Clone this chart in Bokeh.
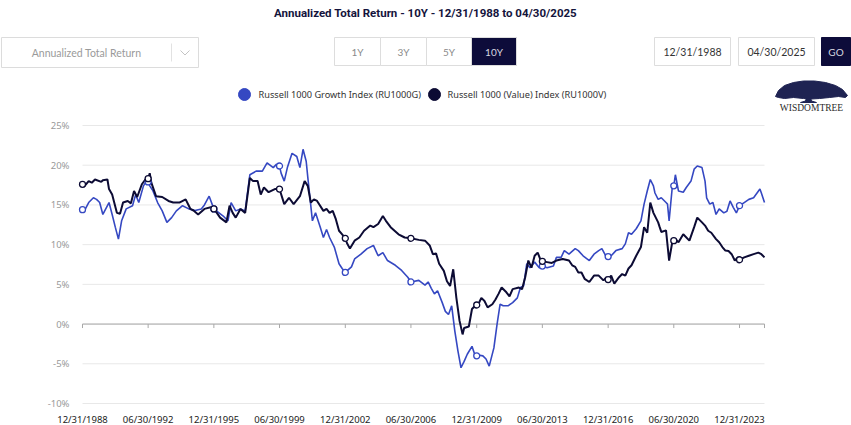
import pandas as pd
from bokeh.plotting import figure
from bokeh.models import (Range1d, FixedTicker, DatetimeTickFormatter, PrintfTickFormatter,
                          DatetimeAxis, LinearAxis)
from bokeh.embed import file_html
from bokeh.resources import INLINE
from bokeh.core.properties import value

# ---------------- texts ----------------
TITLE = "Annualized Total Return - 10Y - 12/31/1988 to 04/30/2025"
DROPDOWN_TEXT = "Annualized Total Return"
PERIODS = ["1Y", "3Y", "5Y", "10Y"]
SELECTED_PERIOD = "10Y"
DATE_INPUTS = ["12/31/1988", "04/30/2025"]
GO_TEXT = "GO"
SERIES_NAMES = ["Russell 1000 Growth Index (RU1000G)", "Russell 1000 (Value) Index (RU1000V)"]
LOGO_TEXT = "WISDOMTREE"

# ---------------- data (annualized 10Y total return, %) ----------------
growth_months = [
    "1988-12", "1989-01", "1989-04", "1989-07", "1989-09", "1989-11", "1990-01", "1990-05", "1990-07", "1990-09",
    "1990-11", "1991-01", "1991-04", "1991-08", "1991-10", "1991-12", "1992-03", "1992-05", "1992-06", "1992-07",
    "1992-09", "1992-12", "1993-03", "1993-06", "1993-09", "1993-12", "1994-04", "1994-08", "1994-12", "1995-04",
    "1995-06", "1995-09", "1995-12", "1996-06", "1996-09", "1996-11", "1997-02", "1997-05", "1997-08", "1997-11",
    "1998-03", "1998-07", "1998-10", "1999-02", "1999-04", "1999-06", "1999-07", "1999-09", "1999-11", "2000-02",
    "2000-05", "2000-07", "2000-09", "2000-11", "2000-12", "2001-03", "2001-05", "2001-08", "2001-10", "2001-12",
    "2002-02", "2002-05", "2002-08", "2002-10", "2002-12", "2003-04", "2003-06", "2003-10", "2004-02", "2004-06",
    "2004-09", "2004-12", "2005-03", "2005-08", "2005-12", "2006-04", "2006-06", "2006-11", "2007-03", "2007-05",
    "2007-07", "2007-09", "2007-11", "2008-02", "2008-04", "2008-06", "2008-08", "2008-10", "2008-12", "2009-02",
    "2009-04", "2009-06", "2009-09", "2009-11", "2009-12", "2010-01", "2010-04", "2010-06", "2010-08", "2010-11",
    "2011-01", "2011-03", "2011-05", "2011-08", "2011-11", "2012-02", "2012-04", "2012-06", "2012-08", "2012-10",
    "2013-01", "2013-04", "2013-06", "2013-09", "2014-01", "2014-03", "2014-06", "2014-08", "2014-11", "2015-03",
    "2015-05", "2015-08", "2015-12", "2016-03", "2016-06", "2016-08", "2016-11", "2016-12", "2017-02", "2017-05",
    "2017-09", "2017-11", "2018-01", "2018-03", "2018-06", "2018-09", "2018-11", "2019-01", "2019-03", "2019-05",
    "2019-06", "2019-08", "2019-10", "2020-01", "2020-02", "2020-03", "2020-05", "2020-06", "2020-07", "2020-09",
    "2020-12", "2021-02", "2021-05", "2021-07", "2021-09", "2021-12", "2022-02", "2022-03", "2022-05", "2022-07",
    "2022-09", "2022-11", "2023-02", "2023-04", "2023-06", "2023-08", "2023-10", "2023-12", "2024-03", "2024-06",
    "2024-09", "2025-01", "2025-02", "2025-04",
]
growth_values = [
    14.4, 14.2, 15.3, 15.9, 15.7, 15.3, 13.8, 15.3, 13.8, 12.2,
    10.7, 13.0, 14.5, 14.9, 16.3, 15.3, 17.4, 18.0, 17.9, 17.4,
    16.8, 15.3, 14.25, 12.8, 13.4, 14.25, 14.9, 14.5, 14.3, 14.5,
    15.0, 16.1, 14.5, 13.6, 13.0, 15.3, 14.25, 14.5, 14.25, 18.8,
    19.25, 19.25, 20.3, 19.7, 20.1, 19.9, 19.0, 18.0, 19.7, 21.5,
    21.1, 19.7, 22.0, 20.5, 18.5, 13.0, 14.0, 12.2, 10.9, 11.9,
    10.9, 9.7, 7.6, 7.0, 6.5, 7.2, 8.2, 8.8, 9.5, 9.9,
    8.6, 9.0, 8.0, 7.4, 6.75, 5.9, 5.3, 5.5, 4.9, 5.3,
    4.5, 3.8, 4.2, 2.7, 1.6, 1.2, 2.3, -0.9, -3.4, -5.5,
    -4.7, -3.8, -2.8, -4.0, -4.0, -3.9, -4.0, -4.4, -5.3, -3.0,
    0.0, 2.5, 2.3, 2.3, 2.7, 3.3, 4.6, 4.8, 7.6, 7.1,
    7.8, 7.1, 7.3, 7.1, 7.3, 8.4, 8.4, 9.25, 8.8, 9.5,
    9.25, 8.6, 8.0, 8.8, 9.25, 9.5, 8.4, 8.5, 8.6, 9.25,
    9.5, 10.1, 11.5, 11.3, 12.0, 13.0, 15.1, 16.75, 18.2, 17.4,
    16.5, 15.7, 15.9, 15.3, 15.1, 13.0, 17.2, 17.4, 18.8, 16.75,
    16.6, 17.2, 18.0, 19.5, 19.9, 19.7, 18.0, 15.9, 15.1, 15.3,
    13.8, 14.5, 14.0, 14.2, 15.5, 14.7, 14.0, 14.9, 15.3, 15.7,
    15.9, 17.0, 16.5, 15.3,
]

value_months = [
    "1988-12", "1989-01", "1989-04", "1989-06", "1989-08", "1989-12", "1990-01", "1990-04", "1990-05", "1990-07",
    "1990-10", "1990-12", "1991-02", "1991-05", "1991-07", "1991-09", "1991-11", "1992-02", "1992-05", "1992-06",
    "1992-07", "1992-08", "1992-11", "1993-03", "1993-07", "1993-10", "1994-02", "1994-06", "1994-08", "1994-09",
    "1994-11", "1995-02", "1995-06", "1995-10", "1995-12", "1996-01", "1996-04", "1996-08", "1996-10", "1996-12",
    "1997-02", "1997-05", "1997-08", "1997-11", "1998-01", "1998-04", "1998-06", "1998-08", "1998-11", "1999-03",
    "1999-06", "1999-09", "1999-12", "2000-03", "2000-07", "2000-10", "2000-12", "2001-02", "2001-04", "2001-06",
    "2001-10", "2001-12", "2002-02", "2002-04", "2002-06", "2002-08", "2002-10", "2002-12", "2003-01", "2003-03",
    "2003-06", "2003-09", "2003-12", "2004-04", "2004-06", "2004-09", "2004-12", "2005-02", "2005-05", "2005-10",
    "2006-02", "2006-06", "2006-11", "2007-03", "2007-06", "2007-08", "2007-10", "2007-12", "2008-03", "2008-05",
    "2008-07", "2008-09", "2008-11", "2009-01", "2009-03", "2009-04", "2009-07", "2009-09", "2009-11", "2009-12",
    "2010-01", "2010-03", "2010-05", "2010-07", "2010-10", "2010-12", "2011-02", "2011-04", "2011-07", "2011-09",
    "2011-11", "2012-03", "2012-05", "2012-07", "2012-09", "2012-11", "2013-01", "2013-03", "2013-05", "2013-06",
    "2013-09", "2013-12", "2014-03", "2014-07", "2014-11", "2015-01", "2015-03", "2015-05", "2015-07", "2015-09",
    "2015-12", "2016-03", "2016-06", "2016-09", "2016-11", "2016-12", "2017-02", "2017-04", "2017-07", "2017-09",
    "2017-11", "2018-01", "2018-03", "2018-06", "2018-09", "2018-11", "2019-01", "2019-03", "2019-05", "2019-08",
    "2019-09", "2019-10", "2020-01", "2020-03", "2020-05", "2020-06", "2020-07", "2020-09", "2020-12", "2021-04",
    "2021-07", "2021-09", "2021-12", "2022-02", "2022-04", "2022-06", "2022-09", "2022-11", "2023-01", "2023-03",
    "2023-05", "2023-07", "2023-09", "2023-11", "2023-12", "2024-03", "2024-06", "2024-09", "2024-12", "2025-02",
    "2025-04",
]
value_values = [
    17.6, 17.3, 18.0, 17.8, 18.2, 17.9, 18.1, 18.2, 17.0, 16.3,
    14.0, 13.9, 15.3, 15.5, 15.2, 16.75, 16.0, 17.6, 18.4, 18.3,
    19.0, 17.8, 16.1, 16.0, 15.5, 15.3, 15.3, 15.7, 14.9, 14.5,
    14.3, 13.8, 14.5, 14.7, 14.5, 14.25, 13.4, 12.8, 14.9, 14.0,
    13.4, 14.5, 14.0, 18.4, 18.0, 18.0, 16.3, 17.2, 16.6, 17.0,
    17.0, 15.1, 15.9, 15.1, 16.1, 18.0, 17.4, 15.3, 15.7, 15.5,
    14.25, 14.5, 14.0, 14.25, 13.2, 11.75, 11.3, 10.8, 10.2, 9.5,
    10.5, 10.9, 11.75, 12.4, 12.2, 12.6, 13.6, 13.0, 12.2, 11.3,
    10.9, 10.8, 10.6, 10.5, 9.9, 8.8, 8.9, 7.6, 6.7, 5.4,
    4.8, 6.9, 3.3, 0.4, -1.3, -0.5, -0.3, 1.9, 2.3, 2.4,
    2.5, 3.3, 2.9, 2.1, 2.5, 3.1, 3.8, 4.6, 4.0, 3.5,
    4.4, 4.6, 4.4, 5.9, 8.0, 7.1, 8.6, 9.0, 8.0, 7.9,
    7.8, 7.7, 8.0, 8.2, 8.0, 7.4, 7.2, 6.5, 6.5, 5.7,
    5.3, 6.1, 6.1, 5.5, 5.9, 5.6, 6.1, 5.1, 5.9, 6.3,
    6.1, 7.0, 7.4, 8.6, 9.7, 12.2, 11.5, 15.3, 14.0, 12.8,
    12.2, 11.6, 11.8, 8.0, 10.3, 10.5, 10.7, 10.3, 11.3, 10.5,
    12.2, 13.4, 12.8, 12.4, 11.75, 11.5, 10.7, 10.3, 9.7, 9.25,
    9.2, 8.8, 8.0, 8.4, 8.1, 8.4, 8.6, 8.8, 9.0, 8.8,
    8.4,
]

x_tick_labels = ["12/31/1988", "06/30/1992", "12/31/1995", "06/30/1999", "12/31/2002", "06/30/2006",
                 "12/31/2009", "06/30/2013", "12/31/2016", "06/30/2020", "12/31/2023"]
y_ticks = [-10, -5, 0, 5, 10, 15, 20, 25]
x_start, x_end = "12/31/1988", "04/30/2025"

# ---------------- layout / styles ----------------
BLUE = "#3548c2"
NAVY = "#0c0b34"
NAVY_UI = "#0d0c3a"
W, H = 851, 425
PLOT_L, PLOT_R, PLOT_T, PLOT_B = 82, 764, 125, 403   # plot area in page pixels


def month_end(months):
    return pd.to_datetime(months, format="%Y-%m") + pd.offsets.MonthEnd(0)


def ms(ts):
    return ts.value / 1e6


g_dates = month_end(growth_months)
v_dates = month_end(value_months)
tick_dates = pd.to_datetime(x_tick_labels, format="%m/%d/%Y")
start, end = pd.to_datetime([x_start, x_end], format="%m/%d/%Y")
tick_ms = [ms(t) for t in tick_dates]

# page-pixel frame; chart ranges placed so that the data area lands on the plot rectangle
p = figure(width=W, height=H, x_range=Range1d(0, W), y_range=Range1d(H, 0),
           x_axis_location=None, y_axis_location=None, output_backend="svg",
           toolbar_location=None, min_border=0)
p.grid.visible = False
p.outline_line_color = None
p.background_fill_color = "white"
p.border_fill_color = "white"

kx = (ms(end) - ms(start)) / (PLOT_R - PLOT_L)
ymin, ymax = min(y_ticks), max(y_ticks)
ky = (ymax - ymin) / (PLOT_B - PLOT_T)
p.extra_x_ranges = {"cx": Range1d(ms(start) - PLOT_L * kx, ms(end) + (W - PLOT_R) * kx)}
p.extra_y_ranges = {"cy": Range1d(ymin - (H - PLOT_B) * ky, ymax + PLOT_T * ky)}
C = dict(x_range_name="cx", y_range_name="cy")

# ---- header: title ----
p.text(x=[425], y=[12], text=[TITLE], text_font=value("Roboto"), text_font_style="bold",
       text_font_size="11.5px", text_color="#14143c", text_align="center", text_baseline="middle")

ui_font = value("Lato")
# dropdown
p.quad(left=[1], right=[198], top=[37], bottom=[67], fill_color="white", line_color="#dcdcdc")
p.segment(x0=[171], y0=[43], x1=[171], y1=[61], line_color="#e2e2e2")
p.line(x=[180, 184.5, 189], y=[50, 54.5, 50], line_color="#c4c4c4", line_width=1)
p.text(x=[86], y=[52], text=[DROPDOWN_TEXT], text_font=ui_font, text_font_size="10.5px",
       text_color="#9a9a9a", text_align="center", text_baseline="middle")

# period buttons
b_left = [334, 380, 426, 471]
b_right = [380, 426, 471, 516]
b_fill = [NAVY_UI if q == SELECTED_PERIOD else "white" for q in PERIODS]
b_text = ["#d8d8e0" if q == SELECTED_PERIOD else "#8a8a8a" for q in PERIODS]
p.quad(left=b_left, right=b_right, top=37, bottom=65, fill_color=b_fill, line_color="#dddddd")
p.text(x=[(a + b) / 2 for a, b in zip(b_left, b_right)], y=[51] * 4, text=PERIODS, text_font=ui_font,
       text_font_size="10px", text_color=b_text, text_align="center", text_baseline="middle")

# date inputs and GO
d_left = [654, 738]
d_right = [730, 814]
p.quad(left=d_left, right=d_right, top=37, bottom=65, fill_color="white", line_color="#dddddd")
p.text(x=[(a + b) / 2 for a, b in zip(d_left, d_right)], y=[51, 51], text=DATE_INPUTS, text_font=ui_font,
       text_font_size="10.5px", text_color="#333333", text_align="center", text_baseline="middle")
p.quad(left=[821], right=[850], top=[37], bottom=[65], fill_color=NAVY_UI, line_color=NAVY_UI)
p.text(x=[835.5], y=[51], text=[GO_TEXT], text_font=ui_font, text_font_size="10px",
       text_color="#d8d8e0", text_align="center", text_baseline="middle")

# legend
p.scatter(x=[244, 434], y=[94, 94], size=12, marker="circle", fill_color=[BLUE, NAVY], line_color=[BLUE, NAVY])
p.text(x=[258, 447], y=[94, 94], text=SERIES_NAMES, text_font=value("Noto Sans"), text_font_size="9.2px",
       text_color="#333333", text_align="left", text_baseline="middle")

# logo
canopy_x = [775, 778, 784, 793, 803, 814, 825, 835, 842, 847, 845, 838, 829, 819, 811, 803, 793, 784, 778]
canopy_y = [96, 90, 85, 82, 80.5, 80.5, 82, 85, 89, 95, 97, 96, 97, 98, 98.5, 98, 97, 98, 97]
p.patch(x=canopy_x, y=canopy_y, fill_color="#1f2352", line_color="#1f2352")
p.patch(x=[806, 810, 811, 816, 800, 805], y=[97, 97, 100.5, 102, 102, 100.5], fill_color="#1f2352",
        line_color="#1f2352")
p.text(x=[811], y=[107.5], text=[LOGO_TEXT], text_font=value("Liberation Serif"), text_font_size="9.5px",
       text_color="#2a2a2a", text_align="center", text_baseline="middle")

# ---- chart: axes (fixed at the plot edges, taking no panel space) ----
fmt = "%m/%d/%Y"
xaxis = DatetimeAxis(ticker=FixedTicker(ticks=tick_ms),
                     formatter=DatetimeTickFormatter(microseconds=fmt, milliseconds=fmt, seconds=fmt,
                                                     minsec=fmt, minutes=fmt, hourmin=fmt, hours=fmt,
                                                     days=fmt, months=fmt, years=fmt),
                     fixed_location=ymin, **C)
xaxis.axis_line_color = None
xaxis.major_tick_line_color = None
xaxis.minor_tick_line_color = None
xaxis.major_label_standoff = 3
xaxis.major_label_text_color = "#222222"
xaxis.major_label_text_font = "Noto Sans"
xaxis.major_label_text_font_size = "9.5px"
p.add_layout(xaxis, "below")

yaxis = LinearAxis(ticker=FixedTicker(ticks=y_ticks), formatter=PrintfTickFormatter(format="%d%%"),
                   fixed_location=ms(start), **C)
yaxis.axis_line_color = None
yaxis.major_tick_line_color = None
yaxis.minor_tick_line_color = None
yaxis.major_label_standoff = 7
yaxis.major_label_text_color = "#9a9a9a"
yaxis.major_label_text_font = "Noto Sans"
yaxis.major_label_text_font_size = "9.5px"
p.add_layout(yaxis, "left")

# horizontal grid lines across the plot area
p.segment(x0=[start] * len(y_ticks), y0=y_ticks, x1=[end] * len(y_ticks), y1=y_ticks,
          line_color="#e8e8e8", line_width=1, **C)
# zero axis line with tick marks
p.segment(x0=[start], y0=[0], x1=[end], y1=[0], line_color="#a8a8a8", line_width=1, **C)
tick_x = list(tick_dates) + [end]
p.segment(x0=tick_x, y0=[0] * len(tick_x), x1=tick_x, y1=[-0.5] * len(tick_x), line_color="#a8a8a8", **C)

# series
p.line(g_dates, growth_values, line_color=BLUE, line_width=1.6, **C)
p.line(v_dates, value_values, line_color=NAVY, line_width=2, **C)

g_mask = g_dates.isin(tick_dates)
v_mask = v_dates.isin(tick_dates)
p.scatter(g_dates[g_mask], [v for v, m in zip(growth_values, g_mask) if m], marker="circle", size=6,
          fill_color="white", line_color=BLUE, line_width=1.3, **C)
p.scatter(v_dates[v_mask], [v for v, m in zip(value_values, v_mask) if m], marker="circle", size=6,
          fill_color="white", line_color=NAVY, line_width=1.3, **C)

open("out.html", "w").write(file_html(p, INLINE))
